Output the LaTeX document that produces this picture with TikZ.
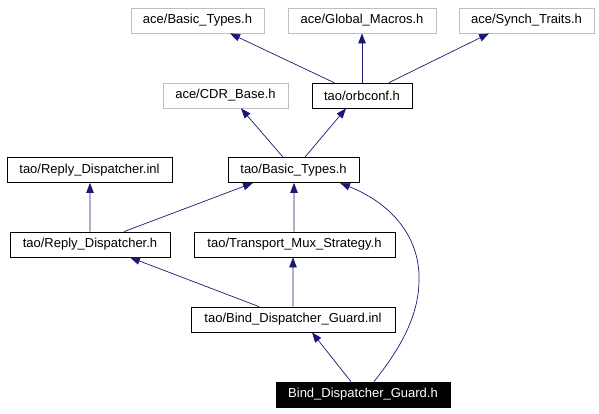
\documentclass[tikz,border=0pt]{standalone}
\usepackage{fontspec}
\setmainfont{Liberation Sans}
\usetikzlibrary{arrows.meta}
\definecolor{edgeblue}{RGB}{25,25,112}
\definecolor{boxgray}{RGB}{191,191,191}
\begin{document}
\begin{tikzpicture}[x=1bp,y=-1bp,
  filebox/.style={draw=black,line width=0.8bp,minimum height=25bp,inner sep=0pt,font=\fontsize{13bp}{15bp}\selectfont,fill=white},
  extbox/.style={filebox,draw=boxgray},
  mainbox/.style={filebox,fill=black,text=white},
  edge/.style={draw=edgeblue,line width=0.7bp,-{Triangle[length=10bp,width=7.5bp]}}]
\useasboundingbox (0,0) rectangle (599,413);
\node[extbox,minimum width=133bp] (aceBT) at (197.5,20.5) {ace/Basic\_Types.h};
\node[extbox,minimum width=148bp] (aceGM) at (362,20.5) {ace/Global\_Macros.h};
\node[extbox,minimum width=135bp] (aceST) at (526.5,20.5) {ace/Synch\_Traits.h};
\node[extbox,minimum width=125bp] (aceCDR) at (225.5,95.5) {ace/CDR\_Base.h};
\node[filebox,minimum width=100bp] (orbconf) at (362,95.5) {tao/orbconf.h};
\node[filebox,minimum width=165bp] (rdinl) at (89.5,170) {tao/Reply\_Dispatcher.inl};
\node[filebox,minimum width=131bp] (taoBT) at (293.5,170) {tao/Basic\_Types.h};
\node[filebox,minimum width=160bp] (rdh) at (90,244.5) {tao/Reply\_Dispatcher.h};
\node[filebox,minimum width=201bp] (tms) at (294.5,244.5) {tao/Transport\_Mux\_Strategy.h};
\node[filebox,minimum width=204bp] (ginl) at (293,319.5) {tao/Bind\_Dispatcher\_Guard.inl};
\node[mainbox,minimum width=174bp] (gh) at (363,394.5) {Bind\_Dispatcher\_Guard.h};

\draw[edge] ([xshift=-28bp]orbconf.north) -- ([xshift=32.5bp]aceBT.south);
\draw[edge] (orbconf.north) -- (aceGM.south);
\draw[edge] ([xshift=27bp]orbconf.north) -- ([xshift=-37.5bp]aceST.south);
\draw[edge] ([xshift=-10.5bp]taoBT.north) -- ([xshift=15.5bp]aceCDR.south);
\draw[edge] ([xshift=11.5bp]taoBT.north) -- ([xshift=-16bp]orbconf.south);
\draw[edge] (rdh.north) -- ([xshift=0.5bp]rdinl.south);
\draw[edge] ([xshift=34bp]rdh.north) -- ([xshift=-40.5bp]taoBT.south);
\draw[edge] ([xshift=-0.5bp]tms.north) -- ([xshift=0.5bp]taoBT.south);
\draw[edge] ([xshift=-34bp]ginl.north) -- ([xshift=40bp]rdh.south);
\draw[edge] (ginl.north) -- ([xshift=-1.5bp]tms.south);
\draw[edge] ([xshift=-12bp]gh.north) -- ([xshift=19bp]ginl.south);
\coordinate (bend) at (419,280);
\draw[edge] ([xshift=11bp]gh.north) .. controls (395,355) and (419,320) .. (bend) .. controls (420,240) and (395,205) .. ([xshift=46.5bp]taoBT.south);
\end{tikzpicture}
\end{document}
